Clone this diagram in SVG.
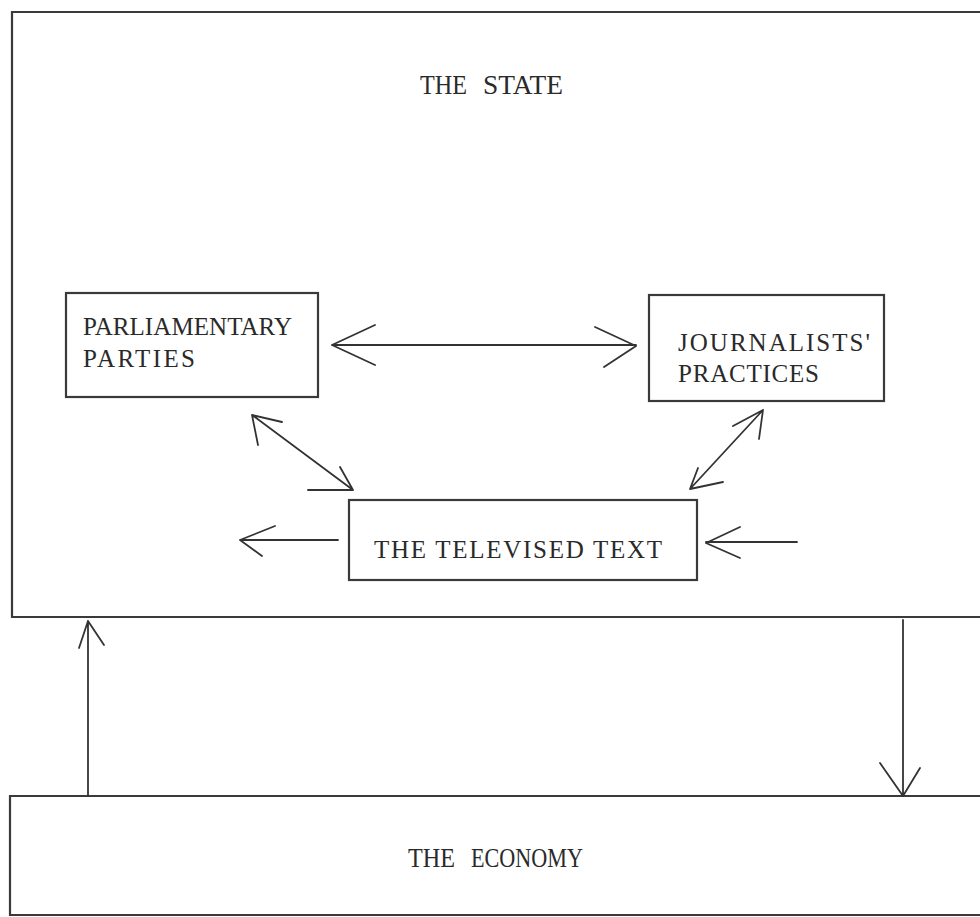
<svg xmlns="http://www.w3.org/2000/svg" width="980" height="917" viewBox="0 0 980 917">
<style>
.bx{fill:none;stroke:#3a3a3a;stroke-width:2.2}
.ln{fill:none;stroke:#333;stroke-width:1.8;stroke-linecap:round;stroke-linejoin:round}
.t{font-family:"Liberation Serif","Times New Roman",serif;font-size:25px;fill:#2a2a2a}
.c{font-size:27px}
</style>
<rect width="980" height="917" fill="#fff"/>
<g id="state">
<path class="bx" d="M982 12 H12 V617 H982"/>
<text class="t c" y="94"><tspan x="420" textLength="47" lengthAdjust="spacingAndGlyphs">THE</tspan><tspan x="483" textLength="80" lengthAdjust="spacingAndGlyphs">STATE</tspan></text>
</g>
<g id="economy">
<path class="bx" d="M982 796 H10 V915 H982"/>
<text class="t c" y="867"><tspan x="408" textLength="47" lengthAdjust="spacingAndGlyphs">THE</tspan><tspan x="471" textLength="112" lengthAdjust="spacingAndGlyphs">ECONOMY</tspan></text>
</g>
<g id="parties">
<rect class="bx" x="66" y="293" width="252" height="104"/>
<text class="t" x="83" y="335" textLength="209">PARLIAMENTARY</text>
<text class="t" x="83" y="367" textLength="112">PARTIES</text>
</g>
<g id="journalists">
<rect class="bx" x="649" y="295" width="235" height="106"/>
<text class="t" x="678" y="351" textLength="192">JOURNALISTS'</text>
<text class="t" x="678" y="382" textLength="141">PRACTICES</text>
</g>
<g id="televised">
<rect class="bx" x="349" y="500" width="348" height="80"/>
<text class="t" x="374" y="558" textLength="288">THE TELEVISED TEXT</text>
</g>
<g id="connectors">
<path class="ln" d="M332 345 H636 M375 325 L332 345 L375 365 M595 327 L636 346 L604 367"/>
<path class="ln" d="M252 415 L353 490 M282 422 L252 415 L258 445 M308 490 L353 490 L340 467"/>
<path class="ln" d="M763 410 L690 489 M733 426 L763 410 L759 439 M723 482 L690 489 L698 468"/>
<path class="ln" d="M338 540 H240 M275 526 L240 540 L262 556"/>
<path class="ln" d="M797 542 H706 M740 527 L706 543 L740 558"/>
<path class="ln" d="M88 795 V621 M79 648 L88 621 L104 645"/>
<path class="ln" d="M903 620 V796 M880 763 L903 796 L920 768"/>
</g>
</svg>
